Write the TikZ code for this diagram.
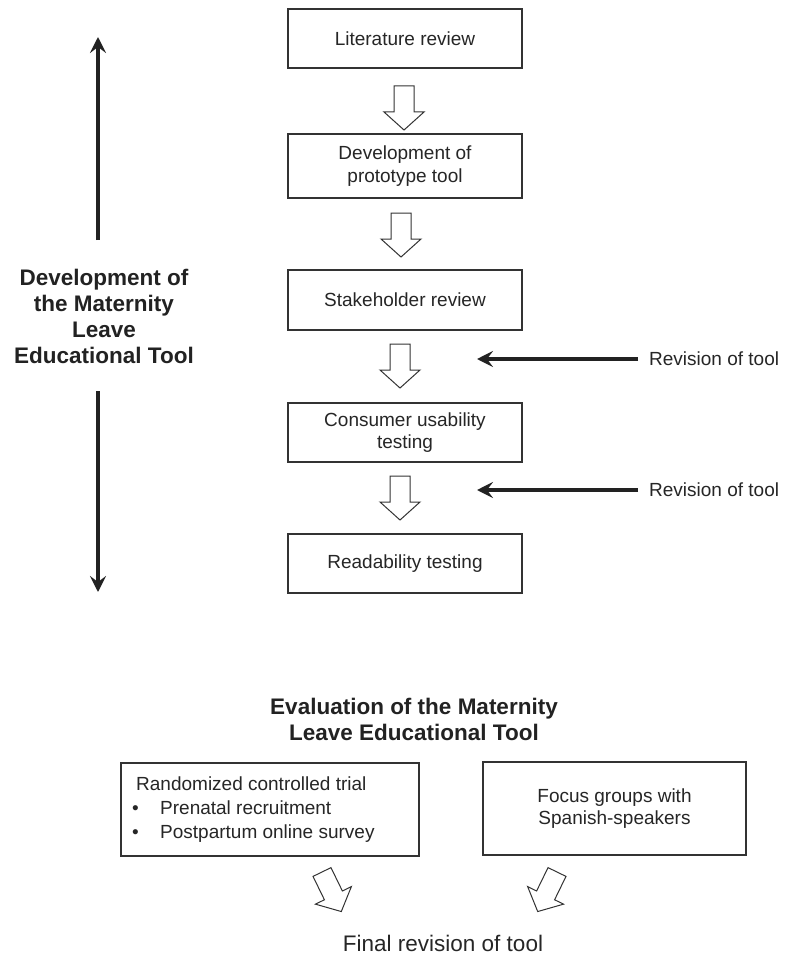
\documentclass[tikz,border=0pt]{standalone}
\usepackage{fontspec}
\setmainfont{Liberation Sans}
\usetikzlibrary{arrows.meta}
\definecolor{txt}{HTML}{262626}
\definecolor{ln}{HTML}{333333}
\definecolor{arr}{HTML}{222222}
\tikzset{
  blk/.pic={\draw[draw=ln, line width=1pt, fill=white, line join=miter]
     (-10,0) -- (10,0) -- (10,26) -- (20,26) -- (0,44) -- (-20,26) -- (-10,26) -- cycle;}
}
\begin{document}
\begin{tikzpicture}[x=1pt,y=-1pt,
  stepbox/.style={draw=ln, line width=1.3pt, minimum width=234pt, inner sep=0pt, align=center, text=txt, font=\fontsize{19pt}{22.5pt}\selectfont},
  lbl/.style={text=txt, inner sep=0pt, font=\fontsize{19pt}{22.5pt}\selectfont},
  ttl/.style={text=arr, inner sep=0pt, align=center, font=\fontsize{22.5pt}{26pt}\selectfont\bfseries},
  thickarr/.style={draw=arr, line width=3.5pt, -{Stealth[length=16pt,width=16pt,inset=6pt]}}
]
\useasboundingbox[fill=white] (0,0) rectangle (784,955);

% process boxes
\node[stepbox, minimum height=59pt] (b1) at (405,38.5) {Literature review};
\node[stepbox, minimum height=64pt] (b2) at (405,166) {Development of\\prototype tool};
\node[stepbox, minimum height=60pt] (b3) at (405,300) {Stakeholder review};
\node[stepbox, minimum height=59pt] (b4) at (405,432.5) {Consumer usability\\testing};
\node[stepbox, minimum height=59pt] (b5) at (405,563.5) {Readability testing};

% block arrows between boxes
\pic at (404,86) {blk};
\pic at (401,213) {blk};
\pic at (400,344) {blk};
\pic at (400,476) {blk};

% revision arrows
\node[lbl, anchor=west] (r1) at (649,359) {Revision of tool};
\node[lbl, anchor=west] (r2) at (649,490) {Revision of tool};
\coordinate (r1t) at (477,359);
\coordinate (r2t) at (477,490);
\draw[thickarr] (r1.west) ++(-11,0) -- (r1t);
\draw[thickarr] (r2.west) ++(-11,0) -- (r2t);

% left title with arrows
\node[ttl] (dev) at (104,316) {Development of\\the Maternity\\Leave\\Educational Tool};
\coordinate (ups) at (98,240);
\coordinate (upt) at (98,37);
\coordinate (dns) at (98,391);
\coordinate (dnt) at (98,592);
\draw[thickarr] (ups) -- (upt);
\draw[thickarr] (dns) -- (dnt);

% evaluation part
\node[ttl] (ev) at (414,719) {Evaluation of the Maternity\\Leave Educational Tool};
\node[draw=ln, line width=1.3pt, minimum width=298pt, minimum height=93pt, inner sep=0pt] (rct) at (270,809.5) {};
\node[lbl, anchor=west, align=left, font=\fontsize{19pt}{24pt}\selectfont] (rcttxt) at (132,809.5)
  {\hspace*{4pt}Randomized controlled trial\\\makebox[28pt][l]{•}Prenatal recruitment\\\makebox[28pt][l]{•}Postpartum online survey};
\node[stepbox, minimum width=263pt, minimum height=93pt, font=\fontsize{19pt}{22pt}\selectfont] (fg) at (614.5,808.5) {Focus groups with\\Spanish-speakers};

\pic[rotate=26] at (322,872) {blk};
\pic[rotate=-26] at (557,872) {blk};

\node[lbl, font=\fontsize{22.5pt}{26pt}\selectfont] (fin) at (443,943) {Final revision of tool};
\end{tikzpicture}
\end{document}
